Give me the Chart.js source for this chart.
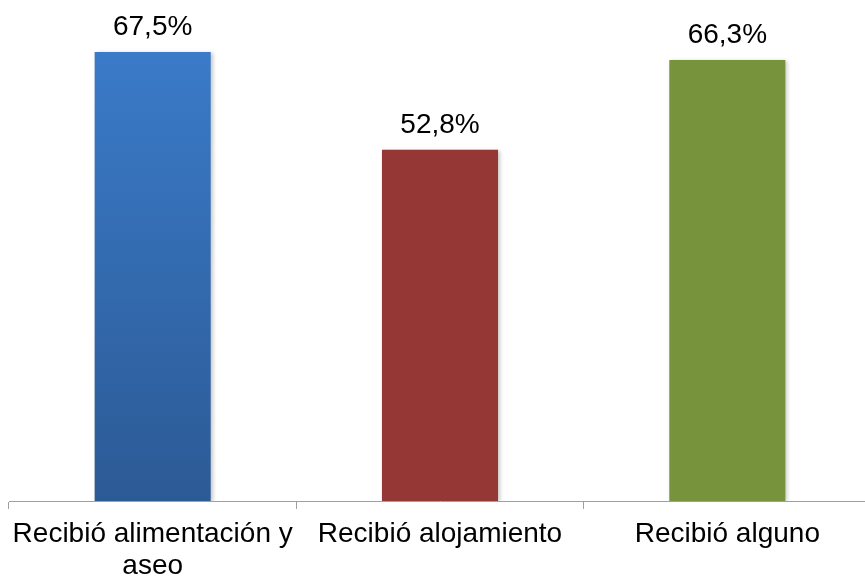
<!DOCTYPE html>
<html>
<head>
<meta charset="utf-8">
<script src="https://cdn.jsdelivr.net/npm/chart.js@4/dist/chart.umd.min.js"></script>
<style>
html,body{margin:0;padding:0;background:#fff;overflow:hidden;width:865px;height:576px;}
#wrap{position:absolute;left:0;top:0;width:871px;height:576px;}
</style>
</head>
<body>
<div id="wrap"><canvas id="c" width="871" height="576"></canvas></div>
<script>
const categories = [["Recibió alimentación y", "aseo"], "Recibió alojamiento", "Recibió alguno"];
const values = [67.5, 52.8, 66.3];
const valueLabels = ["67,5%", "52,8%", "66,3%"];
const barColors = ["#3a7bcb", "#953735", "#77933c"];

const FONT = "'Liberation Sans', Arial, sans-serif";

function barFill(context) {
  const chart = context.chart;
  const i = context.dataIndex;
  const area = chart.chartArea;
  if (!area) return barColors[i];
  if (i === 0) {
    const g = chart.ctx.createLinearGradient(0, area.top, 0, area.bottom);
    g.addColorStop(0, "#3c7ece");
    g.addColorStop(1, "#2c5a95");
    return g;
  }
  return barColors[i];
}

const shadowPlugin = {
  id: "shadow",
  beforeDatasetDraw(chart) {
    const ctx = chart.ctx;
    ctx.save();
    ctx.shadowColor = "rgba(0,0,0,0.22)";
    ctx.shadowBlur = 4;
    ctx.shadowOffsetX = 2;
    ctx.shadowOffsetY = 1;
  },
  afterDatasetDraw(chart) {
    chart.ctx.restore();
  }
};

const labelPlugin = {
  id: "vlabels",
  afterDatasetsDraw(chart) {
    const ctx = chart.ctx;
    const meta = chart.getDatasetMeta(0);
    ctx.save();
    ctx.font = "28px " + FONT;
    ctx.fillStyle = "#000";
    ctx.textAlign = "center";
    ctx.textBaseline = "alphabetic";
    meta.data.forEach((bar, i) => {
      ctx.fillText(valueLabels[i], bar.x, bar.y - 17);
    });
    ctx.restore();
  }
};

new Chart(document.getElementById("c"), {
  type: "bar",
  data: {
    labels: categories,
    datasets: [{
      data: values,
      backgroundColor: barFill,
      borderWidth: 0,
      barPercentage: 1,
      categoryPercentage: 0.404
    }]
  },
  options: {
    responsive: false,
    devicePixelRatio: 1,
    animation: false,
    layout: { padding: { left: 9, right: 0, top: 2, bottom: 0 } },
    plugins: { legend: { display: false }, tooltip: { enabled: false } },
    scales: {
      y: { display: false, min: 0, max: 75 },
      x: {
        grid: { display: true, drawOnChartArea: false, drawTicks: true, tickLength: 8, color: "#a0a0a0", lineWidth: 1 },
        border: { display: true, color: "#a0a0a0", width: 1 },
        ticks: { color: "#000", font: { family: FONT, size: 28, lineHeight: 1.14 }, padding: 9, maxRotation: 0, autoSkip: false },
        afterFit(scale) { scale.height = 75; }
      }
    }
  },
  plugins: [shadowPlugin, labelPlugin]
});
</script>
</body>
</html>
